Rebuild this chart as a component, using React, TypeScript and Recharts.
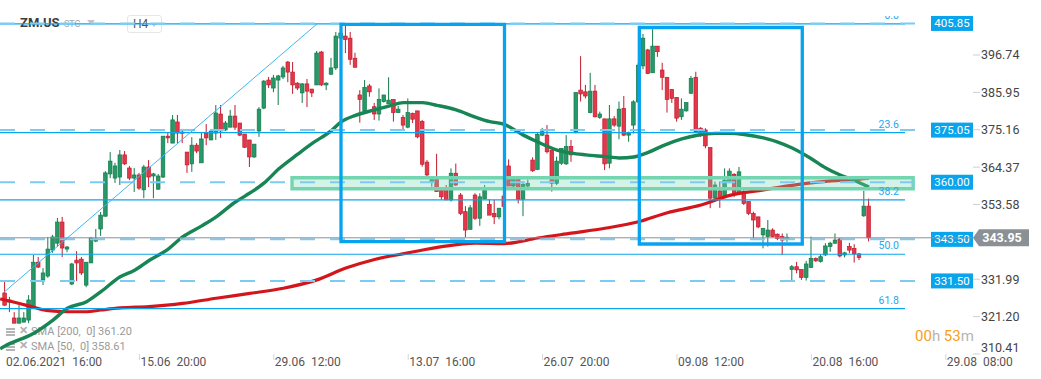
import React from 'react';
import { ComposedChart, Bar, Line, XAxis, YAxis, ReferenceLine, ReferenceArea } from 'recharts';

// ---- Candle data (H4 bars, ZM.US) ----
const opens = [328.0,325.4,320.8,319.3,319.6,320.2,324.0,336.9,331.8,332.9,340.4,342.4,348.5,340.7,330.6,337.5,337.8,330.3,336.7,343.0,
346.5,350.2,362.4,361.2,361.5,367.9,364.1,361.2,362.1,357.8,364.4,361.8,358.0,361.5,373.3,371.3,377.4,374.5,368.7,365.3,
370.7,365.6,374.2,372.2,374.2,379.7,375.1,375.9,379.1,377.1,373.9,372.2,367.3,374.8,381.4,389.5,387.2,389.5,390.4,394.7,
391.8,388.6,385.8,388.4,386.9,388.1,397.6,388.1,391.2,393.0,401.6,402.2,401.6,395.8,385.2,380.6,387.8,381.8,379.7,383.3,
382.6,383.9,380.1,378.7,375.9,379.9,380.6,377.5,365.8,360.1,360.8,357.9,358.2,354.9,362.6,356.3,351.5,346.4,356.3,349.6,
355.2,353.6,351.0,350.0,356.0,364.7,358.9,360.8,355.1,358.9,366.4,363.7,373.6,373.6,369.3,359.7,365.5,365.3,370.3,374.6,
386.6,386.1,380.1,386.3,378.7,378.3,365.5,378.3,376.2,381.3,373.6,376.5,383.2,393.6,398.2,391.6,399.3,392.4,390.3,386.8,
384.5,378.9,380.6,385.7,390.3,375.6,375.1,370.0,355.4,357.5,355.8,359.9,362.3,356.8,357.3,354.4,351.0,350.0,344.8,344.3,
346.2,345.0,344.3,343.5,334.8,335.6,334.8,332.5,335.4,338.0,337.1,339.0,341.4,342.4,343.6,339.0,341.4,340.9,339.3,350.3,353.1];
const highs = [331.2,326.9,322.5,324.5,322.5,327.4,339.0,338.4,335.2,344.2,344.8,349.7,350.0,341.6,336.7,340.1,338.4,336.9,344.2,346.5,
351.4,363.2,368.7,365.6,369.3,369.0,364.7,364.1,362.7,365.0,366.4,362.7,362.4,373.3,374.2,379.4,379.4,375.4,368.7,373.0,
371.3,374.2,376.8,375.4,382.3,382.3,377.7,380.9,382.3,377.1,373.9,372.2,371.0,381.7,389.5,390.4,391.0,391.0,393.6,395.0,
394.7,388.9,388.6,389.8,386.9,397.9,397.9,388.9,395.9,403.4,404.5,405.4,403.4,397.4,386.6,389.5,388.4,382.9,387.1,385.2,
390.3,383.9,382.0,379.4,384.2,380.1,380.6,378.0,366.4,361.8,368.2,358.5,359.2,364.0,365.4,356.9,353.1,353.4,356.8,356.8,
359.2,355.1,354.9,352.5,357.0,366.6,360.8,360.8,360.2,360.8,367.2,374.2,375.7,376.5,369.3,367.4,369.8,373.6,372.2,385.9,
396.4,388.1,391.6,388.1,380.4,378.3,382.3,379.1,383.3,384.9,374.6,383.7,394.4,402.8,398.5,404.2,399.3,394.5,390.3,386.8,
384.5,384.2,383.0,390.7,391.9,375.9,375.6,370.0,360.2,360.2,364.0,364.0,362.6,364.4,358.3,354.4,351.5,350.0,346.7,349.1,
346.7,345.2,345.2,345.2,336.1,337.0,334.8,337.3,344.3,338.3,339.2,342.4,342.8,345.2,343.9,339.9,342.5,342.1,339.6,357.5,355.3];
const lows = [324.3,322.5,319.3,319.3,319.6,319.3,323.7,335.2,330.3,332.4,339.6,341.3,338.4,339.8,330.3,331.5,333.2,329.7,336.7,342.7,
344.5,350.0,361.2,359.8,359.2,365.0,360.6,357.2,357.8,355.4,358.6,355.4,357.8,361.2,371.3,371.3,371.3,371.3,362.7,363.0,
368.4,365.6,370.7,372.2,372.2,372.8,374.8,375.9,375.1,373.3,369.9,364.4,367.0,373.1,381.1,387.2,386.0,382.3,389.8,388.9,
385.5,386.6,382.9,381.7,384.6,388.1,387.8,386.6,391.0,392.4,401.1,397.3,393.9,393.2,377.2,380.4,384.7,378.0,377.8,383.0,
382.6,377.5,380.1,375.1,375.6,377.1,372.7,364.5,361.5,358.7,357.3,354.9,354.9,354.4,358.9,350.5,344.1,346.4,349.1,347.4,
355.1,350.5,347.9,349.3,352.0,358.9,358.3,353.9,350.2,358.3,363.0,363.5,373.3,368.3,357.3,359.2,365.0,365.0,365.9,374.1,
383.3,384.2,379.9,378.7,378.3,363.5,364.0,376.0,372.4,373.3,371.7,374.1,382.9,392.6,391.2,391.6,396.2,386.6,380.1,382.9,
377.5,378.0,380.4,385.5,374.6,373.1,369.8,352.5,355.1,352.6,355.4,359.7,355.8,356.6,353.4,350.5,343.8,346.7,340.9,341.4,
344.1,343.3,339.0,342.8,331.3,333.7,331.8,331.6,335.2,337.0,336.8,338.7,339.9,342.2,338.3,338.3,339.5,336.8,337.5,350.0,342.9];
const closes = [324.5,326.0,319.3,320.8,320.8,326.0,336.9,335.5,333.8,340.7,344.2,348.5,341.0,341.3,336.4,336.7,333.8,336.9,343.9,343.6,
350.5,362.7,366.1,364.7,367.9,365.3,361.2,362.1,358.3,364.4,361.5,362.4,361.8,373.3,372.8,378.0,374.2,374.2,365.0,370.7,
369.0,372.5,372.8,374.8,380.0,374.8,377.1,379.1,375.9,373.6,370.1,367.3,371.0,381.1,389.2,388.1,390.1,390.7,393.0,391.8,
388.1,387.2,388.4,386.3,385.8,397.3,388.1,388.6,393.0,402.2,403.1,401.2,395.5,393.2,383.9,387.4,386.1,379.7,383.9,385.2,
383.7,380.1,381.1,376.5,380.1,378.2,373.1,365.2,362.1,360.8,357.3,355.8,354.9,362.6,359.2,351.0,346.2,352.6,349.6,355.8,
357.9,350.5,350.0,352.5,353.0,358.9,360.8,355.1,359.4,359.7,363.3,373.8,374.6,368.8,359.7,366.1,369.8,370.3,367.9,385.9,
385.5,384.9,386.3,378.9,379.7,365.3,378.3,376.5,381.1,373.6,374.1,383.2,393.8,401.6,391.4,399.3,397.7,390.3,383.9,384.2,
378.5,381.1,383.0,390.0,374.6,373.6,370.5,355.4,359.2,355.4,360.6,363.2,356.6,363.0,353.9,351.0,349.1,347.1,346.7,346.2,
344.3,343.8,343.3,344.1,335.6,334.7,332.5,336.4,338.0,337.3,338.5,341.6,342.4,343.3,338.7,339.6,340.4,339.3,338.3,353.1,343.95];

// ---- Moving averages, read at sample bars ----
const sma50Bars = [-1,0,6,10,13,17,20,24,27,30,34,37,41,44,48,50,54,57,61,64,68,70,73,77,80,83,87,90,94,98,101,104,108,111,115,118,121,125,128,131,134,137,141,144,148,151,154,158,161,164,168,171,174,177,180];
const sma50Vals = [311.9,312.7,316.4,320.2,323.6,325.5,328.4,332.7,334.6,337.4,340.7,344.2,347.4,350.0,354.3,356.0,359.8,363.8,368.1,371.2,374.9,377.4,379.3,380.9,382.0,383.0,383.0,382.2,380.9,378.8,377.5,376.7,373.6,371.6,369.3,368.4,367.9,367.4,367.0,367.3,368.6,370.5,372.5,373.5,374.1,374.1,373.8,372.8,371.6,369.9,366.8,364.1,362.1,360.5,358.6];
const sma200Bars = [-1,0,3,6,9,13,17,20,24,30,37,44,51,58,65,71,77,84,91,98,104,111,118,125,132,138,145,151,158,165,172,178,180];
const sma200Vals = [326.3,326.0,325.0,323.9,322.9,322.6,322.6,323.1,323.7,324.1,325.0,326.5,327.9,329.4,331.8,335.2,337.7,339.6,341.4,342.4,342.3,343.9,345.3,346.7,348.6,351.2,353.4,356.2,357.8,359.3,360.4,360.9,361.2];

// ---- Axes ----
const xTickBars = [0, 28, 56, 84, 112, 140, 168, 196];
const xTickLabels = ['02.06.2021  16:00', '15.06  20:00', '29.06  12:00', '13.07  16:00', '26.07  20:00', '09.08  12:00', '20.08  16:00', '29.08  08:00'];
const yTicks = [396.74, 385.95, 375.16, 364.37, 353.58, 331.99, 321.2, 310.41];

// ---- Drawings ----
const hLevels = [405.85, 375.05, 360.0, 343.5, 331.5];
const fibValues = [405.7, 374.3, 354.9, 339.2, 323.5];
const fibLabels = ['0.0', '23.6', '38.2', '50.0', '61.8'];
const lastPrice = 343.95;
const trendFrom = { i: -0.42, v: 328.0 };
const trendTo = { i: 65.0, v: 405.7 };
const box1 = { i1: 70.0, i2: 104.06, v1: 342.83, v2: 405.6 };
const box2 = { i1: 132.15, i2: 166.1, v1: 342.16, v2: 404.68 };
const zone = { i1: 59.8, i2: 189.2, v1: 358.13, v2: 361.31 };
const fibEndBar = 187.5;
const levelEndBar = 190.2;
const startBar = -1.04;

const sma50Data = sma50Bars.map((b, k) => ({ i: b, v: sma50Vals[k] }));
const sma200Data = sma200Bars.map((b, k) => ({ i: b, v: sma200Vals[k] }));

const data = opens.map((o, i) => ({
  i,
  open: o,
  high: highs[i],
  low: lows[i],
  close: closes[i],
  range: [lows[i], highs[i]],
}));

const FONT = 'Roboto, "Noto Sans", Arial, sans-serif';
const PLOT_RIGHT = 973;

const CandleShape = (props: any) => {
  const { x, y, width, height, payload } = props;
  if (!payload) return null;
  const { open, close, high, low } = payload;
  const cx = x + width / 2;
  const span = high - low;
  const toY = (v: number) => (span === 0 ? y : y + ((high - v) / span) * height);
  const up = close >= open;
  const stroke = up ? '#137a4b' : '#c21b2d';
  const fill = up ? '#279868' : '#e2394a';
  const top = toY(Math.max(open, close));
  const bot = toY(Math.min(open, close));
  const bw = 3.6;
  return (
    <g>
      <line x1={cx} x2={cx} y1={y} y2={y + height} stroke={stroke} strokeWidth={1} />
      <rect x={cx - bw / 2} y={top} width={bw} height={Math.max(bot - top, 1.2)} fill={fill} stroke={stroke} strokeWidth={0.7} />
    </g>
  );
};

const XTick = (props: any) => {
  const { x, payload } = props;
  const idx = xTickBars.indexOf(payload.value);
  const label = idx >= 0 ? xTickLabels[idx] : '';
  return (
    <g>
      {idx > 0 && <line x1={x} x2={x} y1={354} y2={360} stroke="#d6d6d6" strokeWidth={1} />}
      <text x={x + 1} y={366} fill="#555" fontSize={12} fontFamily={FONT} style={{ whiteSpace: 'pre' }}>
        {label}
      </text>
    </g>
  );
};

const YTick = (props: any) => {
  const { y, payload } = props;
  const shift = payload.value < 312 ? -6 : 0;
  return (
    <g>
      <line x1={PLOT_RIGHT} x2={PLOT_RIGHT + 7} y1={y} y2={y} stroke="#cfcfcf" strokeWidth={1} />
      <text x={PLOT_RIGHT + 8} y={y + shift + 4.5} fill="#444" fontSize={12.5} fontFamily={FONT}>
        {payload.value.toFixed(2)}
      </text>
    </g>
  );
};

const levelLabel = (text: string) => (props: any) => {
  const vb = props.viewBox || {};
  const y = vb.y;
  return (
    <g>
      <rect x={931} y={y - 7.5} width={42} height={15} fill="#0aa4ec" />
      <text x={952} y={y + 4} textAnchor="middle" fill="#fff" fontSize={11.5} fontFamily={FONT}>
        {text}
      </text>
    </g>
  );
};

const fibLabel = (text: string, k: number) => (props: any) => {
  const vb = props.viewBox || {};
  const y = vb.y;
  const cid = 'fibclip' + k;
  return (
    <g>
      <defs>
        <clipPath id={cid}>
          <rect x={0} y={16} width={1041} height={363} />
        </clipPath>
      </defs>
      <text x={899} y={y - 5} textAnchor="end" fill="#2aa6ec" fontSize={10.5} fontFamily={FONT} clipPath={`url(#${cid})`}>
        {text}
      </text>
    </g>
  );
};

const priceLabel = (props: any) => {
  const vb = props.viewBox || {};
  const y = vb.y;
  return (
    <g>
      <polygon
        points={`${PLOT_RIGHT},${y} ${PLOT_RIGHT + 6},${y - 8.5} 1029,${y - 8.5} 1029,${y + 8.5} ${PLOT_RIGHT + 6},${y + 8.5}`}
        fill="#8b9095"
      />
      <text x={1002} y={y + 4.5} textAnchor="middle" fill="#fff" fontSize={12.5} fontWeight="bold" fontFamily={FONT}>
        {lastPrice.toFixed(2)}
      </text>
    </g>
  );
};

export default function App() {
  return (
    <div style={{ position: 'absolute', left: 0, top: 0, width: 1041, height: 379, background: '#fff', fontFamily: FONT, overflow: 'hidden' }}>
      {/* header */}
      <div style={{ position: 'absolute', left: 20, top: 15, fontSize: 13, fontWeight: 'bold', color: '#3d3d3d' }}>ZM.US</div>
      <div style={{ position: 'absolute', left: 64, top: 19, fontSize: 9, color: '#a8a8a8' }}>STC</div>
      <div style={{ position: 'absolute', left: 87, top: 20, width: 0, height: 0, borderLeft: '4px solid transparent', borderRight: '4px solid transparent', borderTop: '5px solid #c4c4c4' }} />
      <div style={{ position: 'absolute', left: 127, top: 15, width: 33, height: 16, border: '1px solid #e6e6e6', borderRadius: 3 }}>
        <span style={{ position: 'absolute', left: 5, top: 1, fontSize: 12, color: '#555' }}>H4</span>
        <div style={{ position: 'absolute', left: 23, top: 7, width: 0, height: 0, borderLeft: '3.5px solid transparent', borderRight: '3.5px solid transparent', borderTop: '4px solid #c4c4c4' }} />
      </div>
      {/* legend */}
      {[
        { t: 'SMA [200,  0] 361.20', top: 325 },
        { t: 'SMA [50,  0] 358.61', top: 340 },
      ].map((r) => (
        <div key={r.t} style={{ position: 'absolute', left: 6, top: r.top, height: 14, fontSize: 11, color: '#9a9a9a', whiteSpace: 'pre' }}>
          <div style={{ position: 'absolute', left: 0, top: 3, width: 9, height: 2, background: '#b5b5b5' }} />
          <div style={{ position: 'absolute', left: 0, top: 6, width: 9, height: 2, background: '#b5b5b5' }} />
          <div style={{ position: 'absolute', left: 0, top: 9, width: 9, height: 2, background: '#b5b5b5' }} />
          <span style={{ position: 'absolute', left: 13, top: -1, fontSize: 11, fontWeight: 'bold', color: '#b0b0b0' }}>✕</span>
          <span style={{ position: 'absolute', left: 25, top: 0 }}>{r.t}</span>
        </div>
      ))}
      {/* countdown */}
      <div style={{ position: 'absolute', left: 915, top: 327, fontSize: 15, whiteSpace: 'pre' }}>
        <span style={{ color: '#f7a021' }}>00</span>
        <span style={{ color: '#b5b5b5' }}>h </span>
        <span style={{ color: '#f7a021' }}>53</span>
        <span style={{ color: '#b5b5b5' }}>m</span>
      </div>

      <div style={{ position: 'absolute', left: 0, top: 0 }}>
        <ComposedChart width={1041} height={379} data={data} margin={{ top: 0, right: 0, bottom: 0, left: 0 }}>
          <XAxis
            type="number"
            dataKey="i"
            domain={[-1.0417, 201.667]}
            ticks={xTickBars}
            interval={0}
            tick={<XTick />}
            tickLine={false}
            axisLine={false}
            height={25}
            allowDataOverflow
          />
          <YAxis
            orientation="right"
            type="number"
            domain={[310.4, 412.62]}
            ticks={yTicks}
            interval={0}
            tick={<YTick />}
            tickLine={false}
            axisLine={false}
            width={68}
            allowDataOverflow
          />
          <Bar dataKey="range" barSize={4} isAnimationActive={false} shape={(p: any) => <CandleShape {...p} />} />
          <Line data={sma200Data} dataKey="v" type="monotone" stroke="#d3161c" strokeWidth={3.2} dot={false} activeDot={false} isAnimationActive={false} />
          <Line data={sma50Data} dataKey="v" type="monotone" stroke="#178554" strokeWidth={3.4} dot={false} activeDot={false} isAnimationActive={false} />

          <ReferenceArea zIndex={1000} x1={zone.i1} x2={zone.i2} y1={zone.v1} y2={zone.v2} fill="rgb(120,215,178)" fillOpacity={0.32} stroke="#74d6b0" strokeWidth={3.4} ifOverflow="visible" />

          {fibValues.map((v, k) => (
            <ReferenceLine
              key={'f' + k}
              zIndex={1000}
              segment={[{ x: startBar, y: v }, { x: fibEndBar, y: v }]}
              stroke="#0ca4ec"
              strokeWidth={1.2}
              ifOverflow="visible"
              label={fibLabel(fibLabels[k], k)}
            />
          ))}
          {hLevels.map((v, k) => (
            <ReferenceLine
              key={'h' + k}
              zIndex={1000}
              segment={[{ x: startBar, y: v }, { x: levelEndBar, y: v }]}
              stroke="#7ccbf3"
              strokeWidth={2}
              strokeDasharray="15 15"
              ifOverflow="visible"
              label={levelLabel(v.toFixed(2))}
            />
          ))}
          <ReferenceLine zIndex={1000} y={lastPrice} stroke="#8c9196" strokeWidth={1} label={priceLabel} />
          <ReferenceLine
            zIndex={1000}
            segment={[{ x: trendFrom.i, y: trendFrom.v }, { x: trendTo.i, y: trendTo.v }]}
            stroke="#3db7f2"
            strokeWidth={1}
            ifOverflow="visible"
          />
          <ReferenceArea zIndex={1000} x1={box1.i1} x2={box1.i2} y1={box1.v1} y2={box1.v2} fill="none" fillOpacity={0} stroke="#08a3ee" strokeWidth={3.3} ifOverflow="visible" />
          <ReferenceArea zIndex={1000} x1={box2.i1} x2={box2.i2} y1={box2.v1} y2={box2.v2} fill="none" fillOpacity={0} stroke="#08a3ee" strokeWidth={3.3} ifOverflow="visible" />
        </ComposedChart>
      </div>
    </div>
  );
}
